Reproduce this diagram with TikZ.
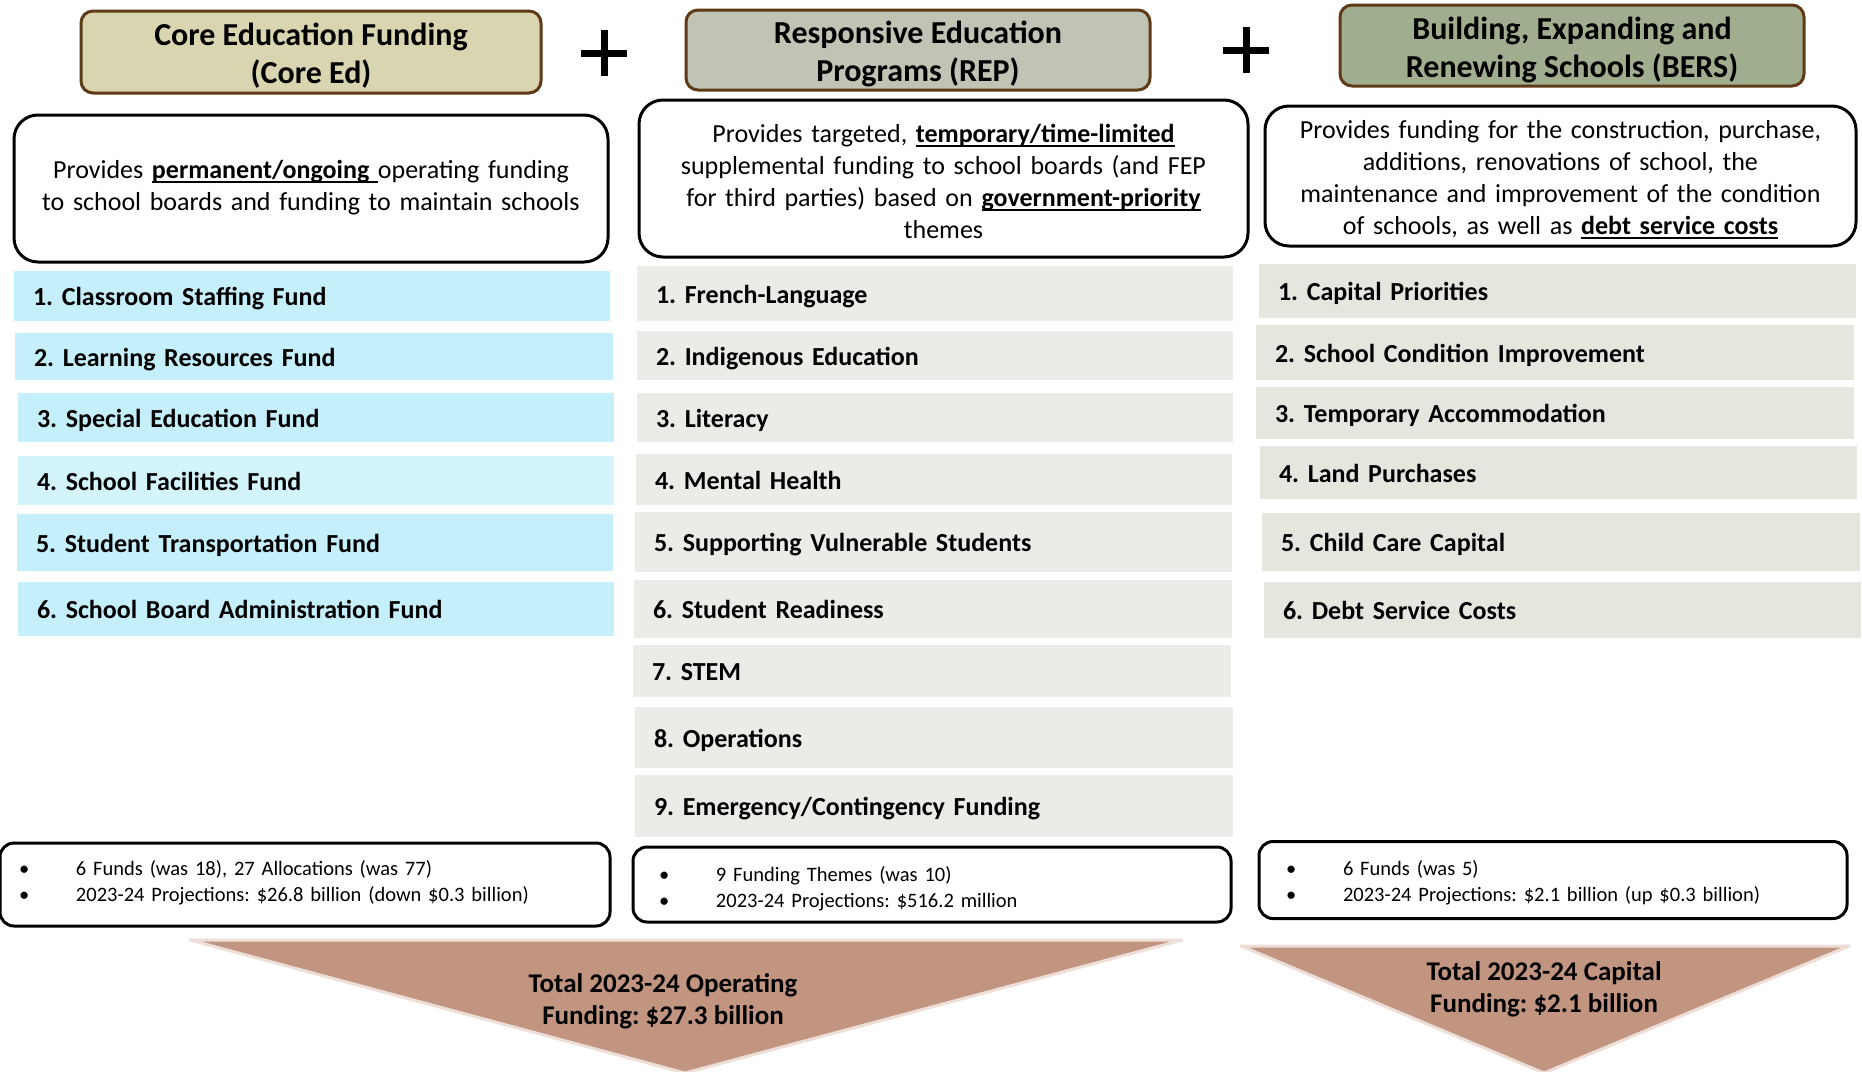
\documentclass[tikz,border=0pt]{standalone}
\usepackage{fontspec}
\setmainfont{Carlito}
\frenchspacing
\newsavebox{\ulbox}
\newcommand{\myul}[1]{\sbox{\ulbox}{#1}\leavevmode\rlap{\rule[-4.8pt]{\wd\ulbox}{1.8pt}}\usebox{\ulbox}}
\definecolor{hbrown}{HTML}{5E3B16}
\definecolor{corefill}{HTML}{D9D5B0}
\definecolor{repfill}{HTML}{BFC4B4}
\definecolor{bersfill}{HTML}{A0AE8F}
\definecolor{blueA}{HTML}{C6EFFC}
\definecolor{blueB}{HTML}{D3F4FB}
\definecolor{greyA}{HTML}{EBECE7}
\definecolor{greyB}{HTML}{E5E7DF}
\definecolor{trifill}{HTML}{C29581}
\definecolor{triedge}{HTML}{EDDFD8}
\newcommand{\bul}{\makebox[57pt][l]{•}}
\begin{document}
\begin{tikzpicture}[x=1pt,y=-1pt,
 hdr/.style={draw=hbrown, line width=3pt, rounded corners=12pt, align=center, font=\fontsize{32}{38}\selectfont\bfseries, inner sep=0pt, text depth=0pt},
 desc/.style={draw=black, line width=3pt, rounded corners=24pt, align=center, font=\fontsize{26}{32}\selectfont, inner sep=0pt, text height=20pt},
 itm/.style={inner ysep=0pt, inner xsep=19pt, align=left, font=\fontsize{26}{30}\selectfont\bfseries, text height=23.5pt, text depth=4.5pt},
 summ/.style={draw=black, line width=3pt, rounded corners=14pt, align=left, font=\fontsize{20.5}{26}\selectfont, inner ysep=0pt, text height=16pt},
 tri/.style={fill=trifill, draw=triedge, line width=3pt, line join=round},
 tottxt/.style={align=center, font=\fontsize{27}{32}\selectfont\bfseries, inner sep=0pt, text height=54pt, text depth=3pt},
 plusbar/.style={line width=7pt}]
\useasboundingbox (0,0) rectangle (1862,1071);
\fill[white] (0,0) rectangle (1862,1071);

% headers
\node[hdr, fill=corefill, minimum width=460pt, minimum height=82pt, text height=62pt] (core) at (311,52) {Core Education Funding\\(Core Ed)};
\node[hdr, fill=repfill, minimum width=464pt, minimum height=80pt, text height=63.6pt] (rep) at (918,50) {Responsive Education\\Programs (REP)};
\node[hdr, fill=bersfill, minimum width=464pt, minimum height=81pt, text height=63pt] (bers) at (1572,45.5) {Building, Expanding and\\Renewing Schools (BERS)};

% plus signs
\draw[plusbar] (581,53) -- (627,53);
\draw[plusbar] (604,30) -- (604,76);
\draw[plusbar] (1223,50) -- (1269,50);
\draw[plusbar] (1246,27) -- (1246,73);

% descriptions
\node[desc, minimum width=594pt, minimum height=147pt, text width=580pt, text depth=41pt] (d1) at (311,188.5)
 {Provides \myul{\textbf{permanent/ongoing}\ }operating funding\\to school boards and funding to maintain schools};
\node[desc, minimum width=609pt, minimum height=157pt, text width=595pt, text depth=93pt] (d2) at (943.5,178.5)
 {Provides targeted, \myul{\textbf{temporary/time-limited}}\\supplemental funding to school boards (and FEP\\for third parties) based on \myul{\textbf{government-priority}}\\themes};
\node[desc, minimum width=591pt, minimum height=140pt, text width=577pt, text depth=96pt] (d3) at (1560.5,176)
 {Provides funding for the construction, purchase,\\additions, renovations of school, the\\maintenance and improvement of the condition\\of schools, as well as \myul{\textbf{debt service costs}}};

% column 1 items
\node[itm, fill=blueA, minimum width=596pt, minimum height=50pt, text width=558pt] (c1) at (312,296) {1. Classroom Staffing Fund};
\node[itm, fill=blueA, minimum width=598pt, minimum height=47pt, text width=560pt] (c2) at (314,356.5) {2. Learning Resources Fund};
\node[itm, fill=blueA, minimum width=596pt, minimum height=49pt, text width=558pt] (c3) at (316,417.5) {3. Special Education Fund};
\node[itm, fill=blueB, minimum width=596pt, minimum height=49pt, text width=558pt] (c4) at (316,480.5) {4. School Facilities Fund};
\node[itm, fill=blueA, minimum width=596pt, minimum height=57pt, text width=558pt] (c5) at (315,542.5) {5. Student Transportation Fund};
\node[itm, fill=blueA, minimum width=596pt, minimum height=54pt, text width=558pt] (c6) at (316,609) {6. School Board Administration Fund};

% column 2 items
\node[itm, fill=greyA, minimum width=596pt, minimum height=55pt, text width=558pt] (r1) at (935,293.5) {1. French-Language};
\node[itm, fill=greyA, minimum width=596pt, minimum height=49pt, text width=558pt] (r2) at (935,355.5) {2. Indigenous Education};
\node[itm, fill=greyA, minimum width=596pt, minimum height=49pt, text width=558pt] (r3) at (935,417.5) {3. Literacy};
\node[itm, fill=greyA, minimum width=596pt, minimum height=51pt, text width=558pt] (r4) at (934,479.5) {4. Mental Health};
\node[itm, fill=greyA, minimum width=597pt, minimum height=60pt, text width=559pt] (r5) at (933.5,542) {5. Supporting Vulnerable Students};
\node[itm, fill=greyA, minimum width=598pt, minimum height=58pt, text width=560pt] (r6) at (933,609) {6. Student Readiness};
\node[itm, fill=greyA, minimum width=598pt, minimum height=52pt, text width=560pt] (r7) at (932,671) {7. STEM};
\node[itm, fill=greyA, minimum width=598pt, minimum height=61pt, text width=560pt] (r8) at (934,737.5) {8. Operations};
\node[itm, fill=greyA, minimum width=598pt, minimum height=62pt, text width=560pt] (r9) at (934,806) {9. Emergency/Contingency Funding};

% column 3 items
\node[itm, fill=greyB, minimum width=597pt, minimum height=54pt, text width=559pt] (b1) at (1557.5,291) {1. Capital Priorities};
\node[itm, fill=greyB, minimum width=598pt, minimum height=55pt, text width=560pt] (b2) at (1555,352.5) {2. School Condition Improvement};
\node[itm, fill=greyB, minimum width=598pt, minimum height=52pt, text width=560pt] (b3) at (1555,413) {3. Temporary Accommodation};
\node[itm, fill=greyB, minimum width=597pt, minimum height=53pt, text width=559pt] (b4) at (1558.5,472.5) {4. Land Purchases};
\node[itm, fill=greyB, minimum width=598pt, minimum height=58pt, text width=560pt] (b5) at (1561,542) {5. Child Care Capital};
\node[itm, fill=greyB, minimum width=597pt, minimum height=56pt, text width=559pt] (b6) at (1562.5,610) {6. Debt Service Costs};

% summaries
\node[summ, minimum width=610pt, minimum height=83pt, text width=572pt, inner xsep=19pt, text depth=34.6pt] (s1) at (305,884.5)
 {\bul 6 Funds (was 18), 27 Allocations (was 77)\\\bul 2023-24 Projections: \$26.8 billion (down \$0.3 billion)};
\node[summ, minimum width=598pt, minimum height=75pt, text width=546pt, inner xsep=26pt, text depth=22.6pt] (s2) at (932,884.5)
 {\bul 9 Funding Themes (was 10)\\\bul 2023-24 Projections: \$516.2 million};
\node[summ, minimum width=588pt, minimum height=77pt, text width=534pt, inner xsep=27pt, text depth=25.6pt] (s3) at (1553,880)
 {\bul 6 Funds (was 5)\\\bul 2023-24 Projections: \$2.1 billion (up \$0.3 billion)};

% totals
\draw[tri] (190,940) -- (1182,940) -- (685,1073) -- cycle;
\draw[tri] (1241,946) -- (1849,946) -- (1544,1073) -- cycle;
\node[tottxt] (t1) at (663,999) {Total 2023-24 Operating\\Funding: \$27.3 billion};
\node[tottxt] (t2) at (1544,987) {Total 2023-24 Capital\\Funding: \$2.1 billion};
\end{tikzpicture}
\end{document}
